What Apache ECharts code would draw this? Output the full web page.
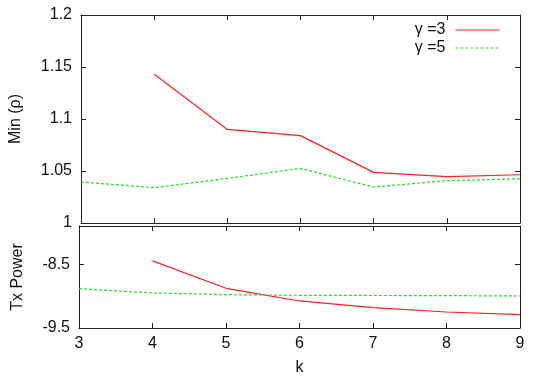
<!DOCTYPE html>
<html>
<head>
<meta charset="utf-8">
<script src="https://cdn.jsdelivr.net/npm/echarts@6/dist/echarts.min.js"></script>
<style>
  html, body { margin: 0; padding: 0; background: #fff; }
  #main { width: 540px; height: 378px; }
</style>
</head>
<body>
<div id="main"></div>
<script>
// k 值（横轴）
var kVals = [3, 4, 5, 6, 7, 8, 9];
// 上图 Min (ρ)，k=3 处 γ=3 无数据
var minRhoG3 = [null, 1.143, 1.090, 1.084, 1.0487, 1.0445, 1.0464];
var minRhoG5 = [1.0394, 1.034, 1.0429, 1.0525, 1.0346, 1.0407, 1.0426];
// 下图 Tx Power
var txPowG3 = [null, -8.448, -8.877, -9.076, -9.18, -9.249, -9.29];
var txPowG5 = [-8.883, -8.95, -8.977, -8.987, -8.99, -8.992, -8.998];
// 图例名称
var seriesNames = ['γ =3', 'γ =5'];

var font = 'Liberation Sans, Arial, sans-serif';
var fs = 16;
var frameColor = '#222';

// 组装 [k, v] 点，跳过空值
function pairs(vals) {
  var out = [];
  kVals.forEach(function (k, i) {
    if (vals[i] !== null) out.push([k, vals[i]]);
  });
  return out;
}

function xAx(gridIndex, pos, showLabel) {
  return {
    type: 'value', gridIndex: gridIndex, position: pos,
    min: 3, max: 9, interval: 1,
    axisLine: { show: true, onZero: false, lineStyle: { color: frameColor, width: 1 } },
    axisTick: { show: true, inside: true, length: 5, lineStyle: { color: frameColor } },
    axisLabel: { show: showLabel, color: '#111', fontSize: fs, fontFamily: font, margin: 8 },
    splitLine: { show: false }
  };
}

function yAx(gridIndex, pos, min, max, interval, showLabel, name, gap, hideMax) {
  return {
    type: 'value', gridIndex: gridIndex, position: pos,
    min: min, max: max, interval: interval,
    name: name || '', nameLocation: 'middle', nameGap: gap || 0,
    nameTextStyle: { color: '#111', fontSize: fs, fontFamily: font },
    axisLine: { show: true, onZero: false, lineStyle: { color: frameColor, width: 1 } },
    axisTick: { show: true, inside: true, length: 5, lineStyle: { color: frameColor } },
    axisLabel: { show: showLabel, color: '#111', fontSize: fs, fontFamily: font, margin: 9,
                 showMaxLabel: !hideMax },
    splitLine: { show: false }
  };
}

function lineSeries(name, xi, yi, vals, color, dashed) {
  return {
    name: name, type: 'line', xAxisIndex: xi, yAxisIndex: yi,
    data: pairs(vals), symbol: 'none', animation: false,
    lineStyle: { color: color, width: 1.2, type: dashed ? [3, 2] : 'solid' },
    itemStyle: { color: color }
  };
}

var myChart = echarts.init(document.getElementById('main'));
myChart.setOption({
  animation: false,
  grid: [
    { left: 79, right: 20, top: 15, height: 208 },
    { left: 79, right: 20, top: 226, height: 102 }
  ],
  legend: {
    orient: 'vertical', align: 'right', right: 40, top: 22, padding: 0,
    itemWidth: 44, itemHeight: 14, itemGap: 2,
    lineStyle: { width: 1.2 },
    textStyle: { fontSize: fs, fontFamily: font, color: '#111', padding: [0, 5, 0, 0] },
    data: [
      { name: seriesNames[0], itemStyle: { opacity: 0 } },
      { name: seriesNames[1], itemStyle: { opacity: 0 } }
    ]
  },
  xAxis: [
    xAx(0, 'bottom', false),
    xAx(0, 'top', false),
    Object.assign(xAx(1, 'bottom', true), {
      name: 'k', nameLocation: 'middle', nameGap: 32,
      nameTextStyle: { color: '#111', fontSize: fs, fontFamily: font }
    }),
    xAx(1, 'top', false)
  ],
  yAxis: [
    yAx(0, 'left', 1, 1.2, 0.05, true, 'Min (ρ)', 57),
    yAx(0, 'right', 1, 1.2, 0.05, false),
    yAx(1, 'left', -9.5, -7.9, 1, true, 'Tx Power', 53, true),
    yAx(1, 'right', -9.5, -7.9, 1, false)
  ],
  series: [
    lineSeries(seriesNames[0], 0, 0, minRhoG3, '#ff2020', false),
    lineSeries(seriesNames[1], 0, 0, minRhoG5, '#20e020', true),
    lineSeries(seriesNames[0], 2, 2, txPowG3, '#ff2020', false),
    lineSeries(seriesNames[1], 2, 2, txPowG5, '#20e020', true)
  ]
});
</script>
</body>
</html>
